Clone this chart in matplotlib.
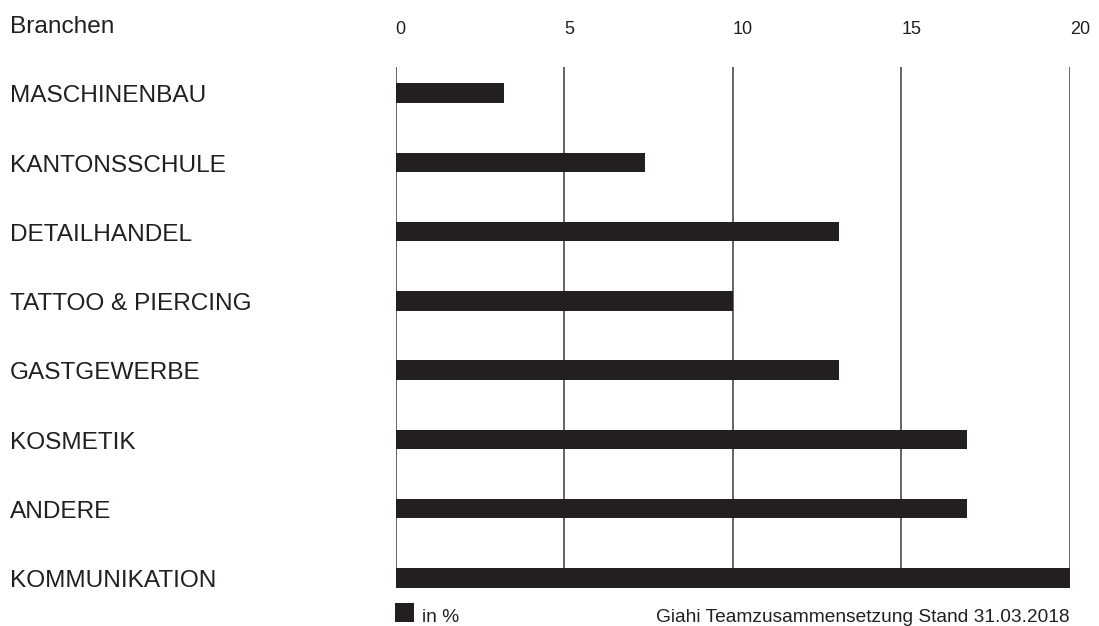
import matplotlib
matplotlib.use("Agg")
import matplotlib.pyplot as plt
from matplotlib.patches import Rectangle
from matplotlib.transforms import blended_transform_factory, ScaledTranslation

branchen = ["MASCHINENBAU", "KANTONSSCHULE", "DETAILHANDEL", "TATTOO & PIERCING",
            "GASTGEWERBE", "KOSMETIK", "ANDERE", "KOMMUNIKATION"]
anteil = [3.2, 7.4, 13.15, 10.0, 13.15, 16.95, 16.95, 20.0]
ticks = [0, 5, 10, 15, 20]

dark = "#231f20"
plt.rcParams["font.family"] = ["Liberation Sans", "DejaVu Sans"]

W, H = 1099, 626
fig = plt.figure(figsize=(W / 100, H / 100), dpi=100)
ax = fig.add_axes([395.7 / W, 1 - 587.7 / H, (1070 - 395.7) / W, (587.7 - 67.3) / H])

ypos = list(range(len(branchen)))
ax.vlines(ticks, -1, len(branchen) + 1, color="#3a3a3a", linewidth=1.1, zorder=1)
ax.barh(ypos, anteil, height=0.28, color=dark, zorder=2)

ax.set_xlim(0, 20)
ax.set_ylim(7 + 9.7 / 69.3, -25.7 / 69.3)
for s in ax.spines.values():
    s.set_visible(False)
ax.set_yticks([])
ax.xaxis.tick_top()
ax.set_xticks(ticks)
ax.set_xticklabels([str(t) for t in ticks], ha="left", fontsize=13, color=dark)
ax.tick_params(axis="x", length=0, pad=21)

# Labels: Grundlinie etwas unter der Balkenmitte
trans = blended_transform_factory(fig.transFigure, ax.transData) + \
    ScaledTranslation(0, -9.3 / 100, fig.dpi_scale_trans)
for y, name in zip(ypos, branchen):
    ax.text(10 / W, y, name, transform=trans, ha="left", va="baseline",
            fontsize=17.6, color=dark)

fig.text(10 / W, 1 - 33 / H, "Branchen", ha="left", va="baseline", fontsize=17.6, color=dark)

fig.add_artist(Rectangle((395 / W, 1 - 622 / H), 19 / W, 19.5 / H,
                         transform=fig.transFigure, color=dark, linewidth=0))
fig.text(422 / W, 1 - 621.5 / H, "in %", ha="left", va="baseline", fontsize=13.8, color=dark)
fig.text(1070 / W, 1 - 621.5 / H, "Giahi Teamzusammensetzung Stand 31.03.2018",
         ha="right", va="baseline", fontsize=13.8, color=dark)

fig.savefig("out.png", dpi=100, facecolor="white")
